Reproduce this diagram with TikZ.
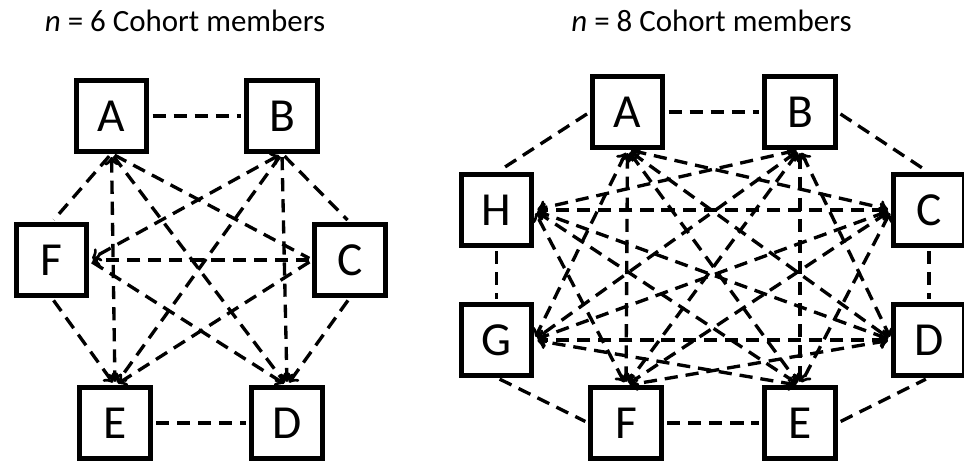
\documentclass[tikz,border=0pt]{standalone}
\usepackage{fontspec}
\setmainfont{Carlito}
\usepackage{tikz}
\usetikzlibrary{arrows}

\begin{document}
\begin{tikzpicture}[
  member/.style={draw, line width=2.6pt, minimum size=1.41cm, inner sep=0pt, font=\fontsize{27}{30}\selectfont},
  heading/.style={anchor=base, font=\fontsize{17.6}{20}\selectfont},
  link/.style={line width=1.9pt, dash pattern=on 7.5pt off 4.5pt, shorten <=2pt, shorten >=2pt},
  >=to]
\useasboundingbox (0cm,0cm) rectangle (19.28cm,-9.28cm);
% titles
\node[heading] (t1) at (3.7cm,-0.62cm) {\textit{n} = 6 Cohort members};
\node[heading] (t2) at (14.23cm,-0.62cm) {\textit{n} = 8 Cohort members};
% n = 6
\node[member] (1) at (2.23cm,-2.32cm) {A};
\node[member] (2) at (5.64cm,-2.32cm) {B};
\node[member] (3) at (7.0cm,-5.2cm) {C};
\node[member] (4) at (5.74cm,-8.46cm) {D};
\node[member] (5) at (2.3cm,-8.46cm) {E};
\node[member] (6) at (1.03cm,-5.2cm) {F};
\draw[link] (1) -- (2);
\draw[link] (1.south) -- (6.north);
\draw[link] (2.south) -- (3.north);
\draw[link,->] (6.south) -- (5.north);
\draw[link,->] (3.south) -- (4.north);
\draw[link] (5) -- (4);
\draw[link,<->] (1.south) -- (5.north);
\draw[link,->] (1.south) -- (4.north);
\draw[link] (1.south) -- (3.west);
\draw[link,<->] (2.south) -- (6.east);
\draw[link,->] (2.south) -- (5.north);
\draw[link,->] (2.south) -- (4.north);
\draw[link,->] (3.west) -- (6.east);
\draw[link,->] (3.west) -- (5.north);
\draw[link,->] (6.east) -- (4.north);
% n = 8
\node[member] (11) at (12.55cm,-2.24cm) {A};
\node[member] (12) at (16.0cm,-2.24cm) {B};
\node[member] (13) at (18.58cm,-4.2cm) {C};
\node[member] (14) at (18.58cm,-6.8cm) {D};
\node[member] (15) at (16.0cm,-8.46cm) {E};
\node[member] (16) at (12.52cm,-8.46cm) {F};
\node[member] (17) at (9.93cm,-6.8cm) {G};
\node[member] (18) at (9.93cm,-4.2cm) {H};
\draw[link] (11) -- (12);
\draw[link] (11.west) -- (18.north);
\draw[link] (12.east) -- (13.north);
\draw[link] (18) -- (17);
\draw[link] (13) -- (14);
\draw[link] (17.south) -- (16.west);
\draw[link] (16) -- (15);
\draw[link] (15.east) -- (14.south);
\draw[link,<->] (11.south) -- (13.west);
\draw[link,<->] (11.south) -- (14.west);
\draw[link,<->] (11.south) -- (15.north);
\draw[link,<->] (11.south) -- (16.north);
\draw[link,<->] (11.south) -- (17.east);
\draw[link,<->] (12.south) -- (14.west);
\draw[link,<->] (12.south) -- (15.north);
\draw[link,<->] (12.south) -- (16.north);
\draw[link,<->] (12.south) -- (17.east);
\draw[link,<->] (12.south) -- (18.east);
\draw[link,<->] (13.west) -- (15.north);
\draw[link,<->] (13.west) -- (16.north);
\draw[link,<->] (13.west) -- (17.east);
\draw[link,<->] (13.west) -- (18.east);
\draw[link,<->] (14.west) -- (16.north);
\draw[link,<->] (14.west) -- (17.east);
\draw[link,<->] (14.west) -- (18.east);
\draw[link,<->] (15.north) -- (17.east);
\draw[link,<->] (15.north) -- (18.east);
\draw[link,<->] (16.north) -- (18.east);
\end{tikzpicture}
\end{document}
